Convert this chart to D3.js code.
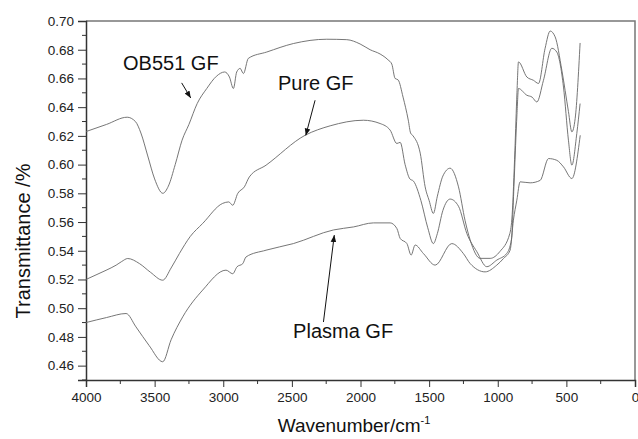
<!DOCTYPE html>
<html>
<head>
<meta charset="utf-8">
<script src="https://cdn.jsdelivr.net/npm/d3@7"></script>
<style>
  body { margin: 0; background: white; }
  text { font-family: "Liberation Sans", Arial, sans-serif; }
</style>
</head>
<body>
<svg id="chart"></svg>
<script>
// FTIR spectra: [wavenumber, transmittance]
var ob551GF = [
    [4000, 0.623], [3850, 0.628], [3700, 0.633], [3640, 0.630], [3600, 0.622],
    [3550, 0.606], [3500, 0.590], [3440, 0.580], [3400, 0.585], [3350, 0.600],
    [3300, 0.617], [3250, 0.628], [3190, 0.6425], [3120, 0.653], [3050, 0.6615],
    [2990, 0.6645], [2955, 0.661], [2926, 0.653], [2902, 0.6645], [2877, 0.667],
    [2853, 0.6634], [2817, 0.674], [2683, 0.6784], [2489, 0.6843], [2246, 0.6873],
    [2100, 0.687], [2003, 0.684], [1930, 0.680], [1857, 0.677], [1800, 0.673],
    [1772, 0.670], [1748, 0.660], [1726, 0.659], [1690, 0.647], [1652, 0.631],
    [1635, 0.622], [1617, 0.620], [1565, 0.608], [1529, 0.5845], [1500, 0.575],
    [1469, 0.566], [1440, 0.578], [1400, 0.592], [1347, 0.5975], [1286, 0.5845],
    [1238, 0.561], [1201, 0.5475], [1128, 0.5347], [1055, 0.5347], [985, 0.5394],
    [912, 0.552], [895, 0.565], [875, 0.61], [860, 0.65], [849, 0.6715],
    [788, 0.661], [740, 0.6587], [703, 0.6565], [655, 0.681], [618, 0.693],
    [582, 0.689], [533, 0.6657], [485, 0.637], [460, 0.6228], [436, 0.632],
    [400, 0.6847]
];

var pureGF = [
    [4000, 0.520], [3920, 0.5235], [3854, 0.5264], [3780, 0.530], [3740, 0.5325],
    [3696, 0.5346], [3611, 0.5311], [3530, 0.525], [3441, 0.5195], [3380, 0.528],
    [3320, 0.538], [3240, 0.550], [3150, 0.559], [3004, 0.573], [2960, 0.574],
    [2931, 0.5717], [2894, 0.580], [2846, 0.5845], [2810, 0.5914], [2688, 0.5996],
    [2404, 0.6204], [2221, 0.627], [1979, 0.6309], [1857, 0.6286], [1784, 0.624],
    [1735, 0.6147], [1711, 0.6155], [1675, 0.600], [1640, 0.590], [1614, 0.5885],
    [1560, 0.575], [1510, 0.556], [1469, 0.545], [1440, 0.552], [1400, 0.568],
    [1347, 0.576], [1286, 0.571], [1225, 0.552], [1152, 0.5393], [1080, 0.5289],
    [1007, 0.5335], [934, 0.5382], [900, 0.548], [880, 0.59], [860, 0.635],
    [849, 0.653], [788, 0.6483], [750, 0.647], [715, 0.6436], [667, 0.6587],
    [606, 0.681], [570, 0.6784], [521, 0.654], [485, 0.617], [460, 0.5996],
    [424, 0.6217], [400, 0.6425]
];

var plasmaGF = [
    [4000, 0.490], [3850, 0.4935], [3708, 0.4963], [3636, 0.487], [3540, 0.474],
    [3441, 0.4627], [3380, 0.478], [3295, 0.494], [3150, 0.5126], [2980, 0.5265],
    [2931, 0.524], [2900, 0.5288], [2858, 0.531], [2834, 0.5357], [2688, 0.5404],
    [2489, 0.545], [2197, 0.5545], [2051, 0.5566], [1906, 0.5594], [1784, 0.5594],
    [1735, 0.5555], [1711, 0.5486], [1662, 0.545], [1631, 0.537], [1602, 0.544],
    [1541, 0.538], [1456, 0.530], [1335, 0.545], [1250, 0.538], [1201, 0.5311],
    [1092, 0.5253], [1007, 0.530], [958, 0.5346], [910, 0.5404], [886, 0.5613],
    [861, 0.5752], [837, 0.588], [764, 0.5873], [691, 0.589], [630, 0.6042],
    [570, 0.603], [521, 0.5984], [460, 0.5903], [399, 0.6204]
];

var xTicks = [4000, 3500, 3000, 2500, 2000, 1500, 1000, 500, 0];
var yTicks = [0.46, 0.48, 0.50, 0.52, 0.54, 0.56, 0.58, 0.60, 0.62, 0.64, 0.66, 0.68, 0.70];

// labels with arrows, in data units: text anchor, arrow start, arrow tip
var labels = [
    { name: "OB551 GF", text: [3730, 0.6657], from: [3303, 0.6569], to: [3237, 0.6464] },
    { name: "Pure GF", text: [2601, 0.6518], from: [2331, 0.6448], to: [2399, 0.6203] },
    { name: "Plasma GF", text: [2491, 0.4793], from: [2270, 0.4904], to: [2191, 0.5509] }
];

var dimensions = {
    width: 638,
    height: 439,
    margin: { top: 21, bottom: 59, right: 3, left: 86 }
}

var svg = d3.select("#chart")
    .attr("width", dimensions.width)
    .attr("height", dimensions.height);

var xScale = d3.scaleLinear()
    .domain([4000, 0])
    .range([dimensions.margin.left, dimensions.width - dimensions.margin.right]);

var yScale = d3.scaleLinear()
    .domain([0.45, 0.70])
    .range([dimensions.height - dimensions.margin.bottom, dimensions.margin.top]);

var x0 = xScale.range()[0], x1 = xScale.range()[1];
var y0 = yScale.range()[0], y1 = yScale.range()[1];

// frame top + right
svg.append("path")
    .attr("d", `M${x0},${y1}H${x1}V${y0}`)
    .attr("fill", "none")
    .attr("stroke", "#777")
    .attr("stroke-width", 1.5);

// minor ticks
var xMinor = d3.range(3750, 0, -500);
var yMinor = d3.range(0.45, 0.70, 0.02);

svg.append("g")
    .selectAll("line")
    .data(xMinor)
    .join("line")
    .attr("x1", d => xScale(d)).attr("x2", d => xScale(d))
    .attr("y1", y0).attr("y2", y0 + 4)
    .attr("stroke", "#333");

svg.append("g")
    .selectAll("line")
    .data(yMinor)
    .join("line")
    .attr("x1", x0 - 4).attr("x2", x0)
    .attr("y1", d => yScale(d)).attr("y2", d => yScale(d))
    .attr("stroke", "#333");

// x axis
var xAxis = svg.append("g")
    .attr("transform", `translate(0,${y0})`)
    .call(d3.axisBottom(xScale).tickValues(xTicks).tickSize(7).tickPadding(5).tickFormat(d3.format("d")));

// y axis
var yAxis = svg.append("g")
    .attr("transform", `translate(${x0},0)`)
    .call(d3.axisLeft(yScale).tickValues(yTicks).tickSize(8).tickPadding(4).tickFormat(d3.format(".2f")));

[xAxis, yAxis].forEach(ax => {
    ax.select(".domain").attr("stroke", "#333").attr("stroke-width", 1.5);
    ax.selectAll(".tick line").attr("stroke", "#333");
    ax.selectAll(".tick text")
        .attr("fill", "#222")
        .style("font-size", "13.5px")
        .style("font-family", "Liberation Sans, Arial, sans-serif");
});

// spectra
var line = d3.line()
    .x(d => xScale(d[0]))
    .y(d => yScale(d[1]))
    .curve(d3.curveMonotoneX);

svg.append("g")
    .selectAll("path")
    .data([ob551GF, pureGF, plasmaGF])
    .join("path")
    .attr("d", d => line(d))
    .attr("fill", "none")
    .attr("stroke", "#666")
    .attr("stroke-width", 0.9);

// arrow head
svg.append("defs").append("marker")
    .attr("id", "head")
    .attr("viewBox", "0 0 10 10")
    .attr("refX", 10).attr("refY", 5)
    .attr("markerWidth", 7).attr("markerHeight", 7)
    .attr("markerUnits", "userSpaceOnUse")
    .attr("orient", "auto")
    .append("path")
    .attr("d", "M0,1L10,5L0,9Z")
    .attr("fill", "#111");

var notes = svg.append("g");

notes.selectAll("text")
    .data(labels)
    .join("text")
    .attr("x", d => xScale(d.text[0]))
    .attr("y", d => yScale(d.text[1]))
    .style("font-size", "20px")
    .attr("fill", "#111")
    .text(d => d.name);

notes.selectAll("line")
    .data(labels)
    .join("line")
    .attr("x1", d => xScale(d.from[0]))
    .attr("y1", d => yScale(d.from[1]))
    .attr("x2", d => xScale(d.to[0]))
    .attr("y2", d => yScale(d.to[1]))
    .attr("stroke", "#111")
    .attr("stroke-width", 1)
    .attr("marker-end", "url(#head)");

// axis titles
svg.append("text")
    .attr("text-anchor", "middle")
    .attr("transform", "translate(30,241) rotate(-90)")
    .style("font-size", "20px")
    .attr("fill", "#111")
    .text("Transmittance /%");

var xTitle = svg.append("text")
    .attr("text-anchor", "middle")
    .attr("x", 354)
    .attr("y", 432)
    .style("font-size", "19px")
    .attr("fill", "#111");
xTitle.append("tspan").text("Wavenumber/cm");
xTitle.append("tspan").attr("dy", -8).style("font-size", "11px").text("-1");
</script>
</body>
</html>
